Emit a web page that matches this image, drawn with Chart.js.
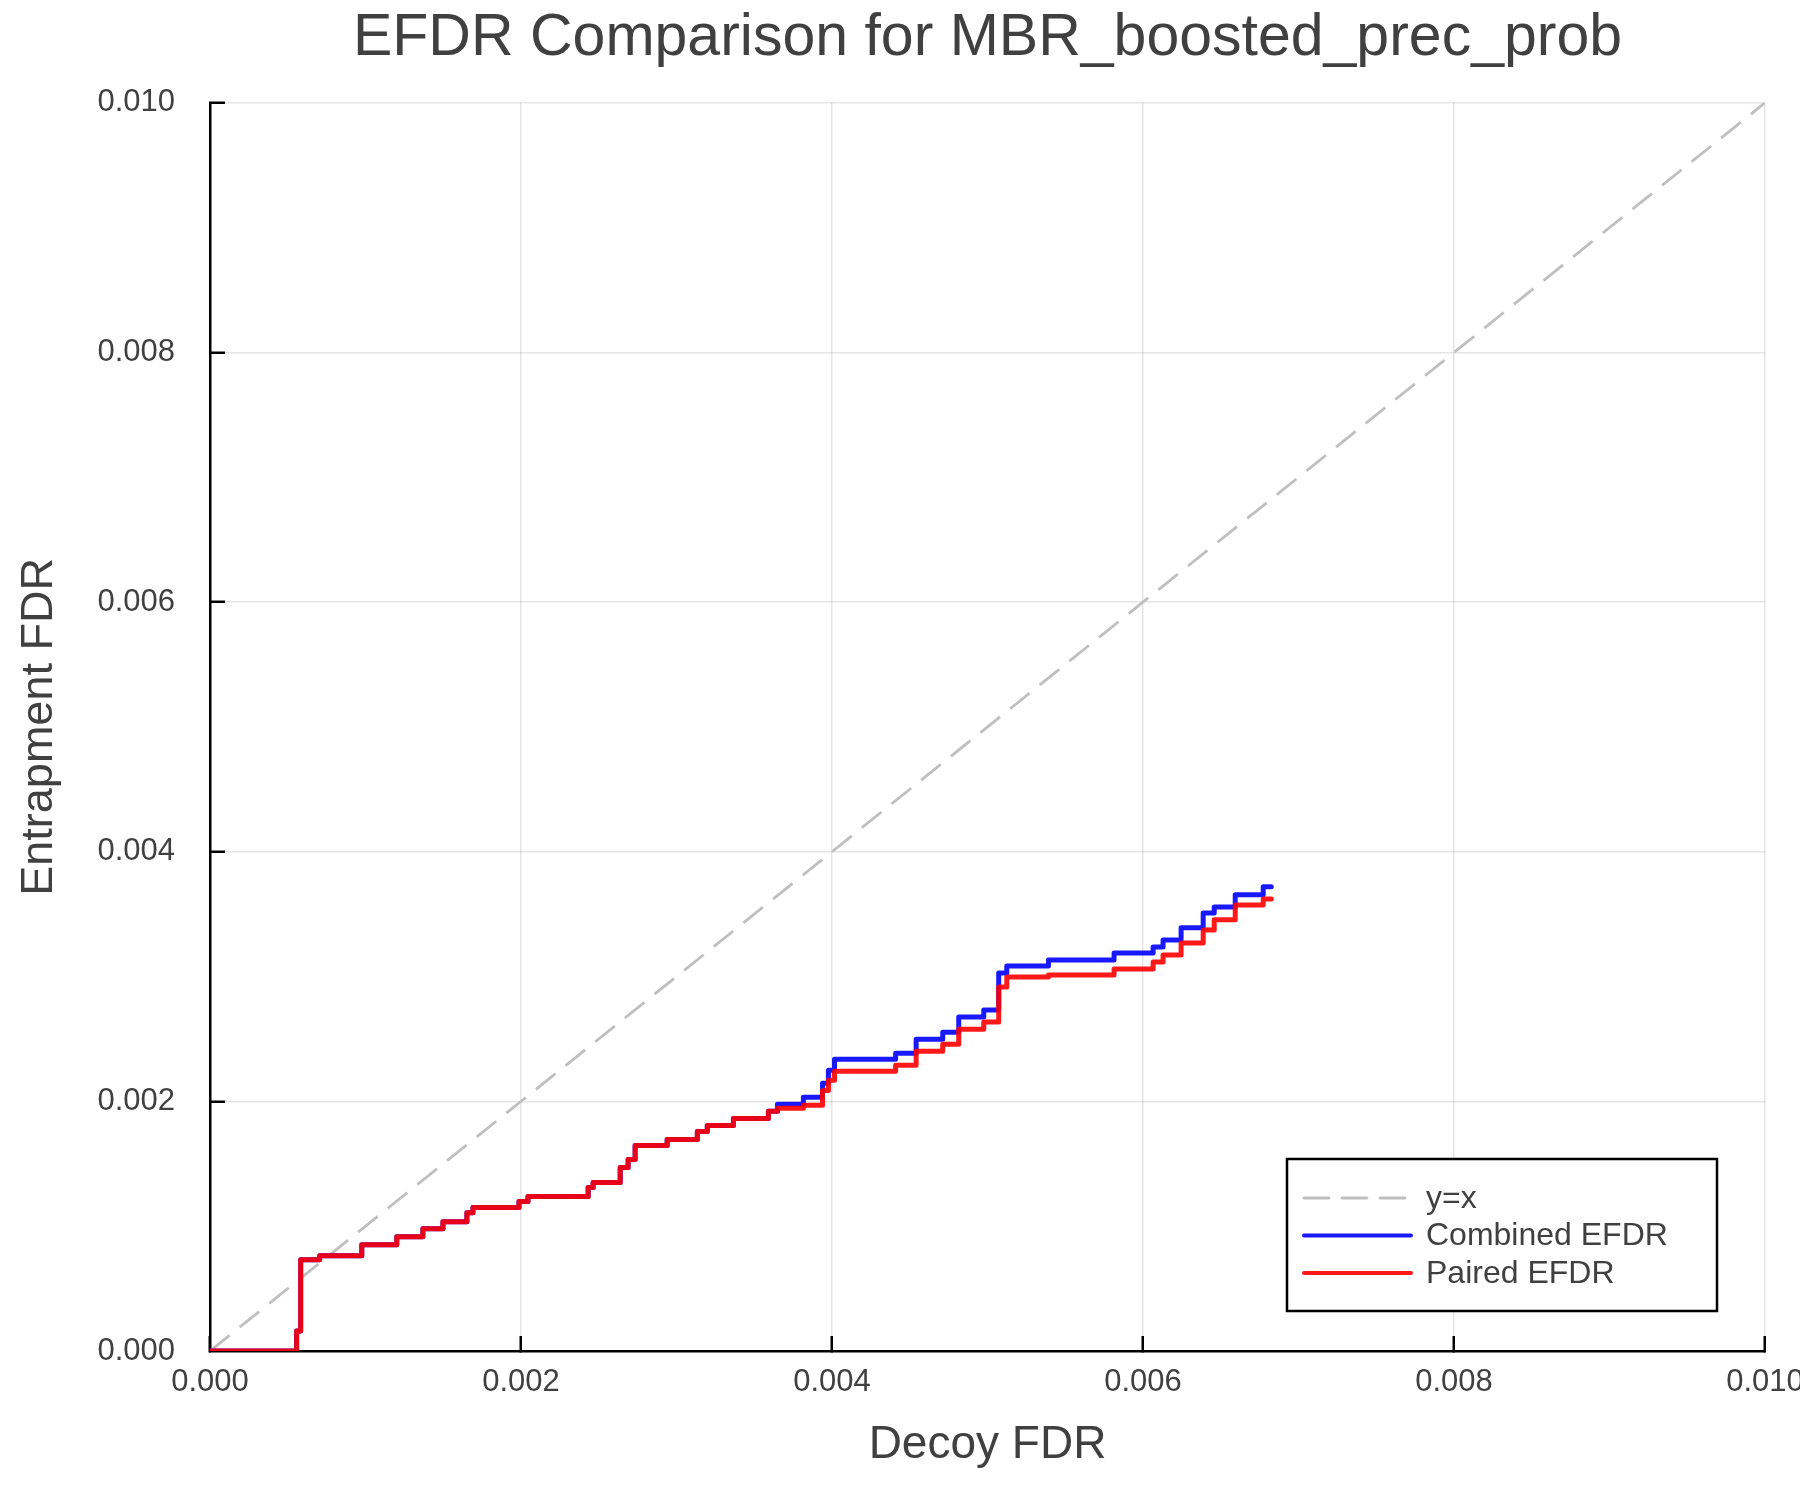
<!DOCTYPE html>
<html>
<head>
<meta charset="utf-8">
<title>EFDR Comparison</title>
<script src="https://cdn.jsdelivr.net/npm/chart.js@4.4.1/dist/chart.umd.min.js"></script>
<style>
  html, body { margin: 0; padding: 0; background: #fff; }
  #wrap { width: 1800px; height: 1500px; position: relative; }
</style>
</head>
<body>
<div id="wrap"><canvas id="efdrChart"></canvas></div>
<script>
// Decoy FDR where each step starts (shared by both curves)
const decoyFdr = [0, 0.000557, 0.000583, 0.000705, 0.000976, 0.001201, 0.001369, 0.001498, 0.001652, 0.001691,
  0.001987, 0.002045, 0.002432, 0.002464, 0.002638, 0.002689, 0.002734, 0.00294, 0.003134, 0.003198,
  0.003366, 0.003591, 0.003649, 0.003816, 0.003939, 0.003977, 0.004016, 0.004409, 0.004541, 0.004712,
  0.004815, 0.004976, 0.005072, 0.005124, 0.005392, 0.005814, 0.006065, 0.006129, 0.006245, 0.006387,
  0.006458, 0.006593, 0.006773, 0.006825];

const combinedEfdr = [0, 0.000161, 0.000731, 0.000763, 0.000851, 0.000916, 0.00098, 0.001036, 0.001108, 0.001149,
  0.001197, 0.001237, 0.001309, 0.001349, 0.00147, 0.001534, 0.001647, 0.001695, 0.001759, 0.001807,
  0.001863, 0.00192, 0.001976, 0.002032, 0.002145, 0.002249, 0.002337, 0.002386, 0.002498, 0.002554,
  0.002675, 0.002731, 0.003028, 0.003084, 0.003133, 0.003189, 0.003237, 0.003293, 0.00339, 0.00351,
  0.003558, 0.003655, 0.003719, 0.003719];

const pairedEfdr = [0, 0.000161, 0.000731, 0.000763, 0.000851, 0.000916, 0.00098, 0.001036, 0.001108, 0.001149,
  0.001197, 0.001237, 0.001309, 0.001349, 0.00147, 0.001534, 0.001647, 0.001695, 0.001759, 0.001807,
  0.001863, 0.00192, 0.001944, 0.001968, 0.002088, 0.002169, 0.002241, 0.002289, 0.002402, 0.002458,
  0.002578, 0.002635, 0.002916, 0.002996, 0.003012, 0.00306, 0.003116, 0.003173, 0.003269, 0.003373,
  0.003454, 0.003574, 0.003622, 0.003622];

// y = x reference line ends
const diagonal = [0, 0.01];

const tickValues = [0, 0.002, 0.004, 0.006, 0.008, 0.010];

const FONT = "'Liberation Sans', Arial, Helvetica, sans-serif";
const TEXT = '#404040';

const toPoints = (xs, ys) => xs.map((x, i) => ({ x: x, y: ys[i] }));

// legend drawn inside the plot, bottom right, with a black box
const boxLegend = {
  id: 'boxLegend',
  afterDraw(chart) {
    const { ctx, chartArea } = chart;
    const left = chartArea.right - 478;
    const top = chartArea.bottom - 192;
    ctx.save();
    ctx.fillStyle = '#fff';
    ctx.fillRect(left, top, 430, 152);
    ctx.strokeStyle = '#000';
    ctx.lineWidth = 2.5;
    ctx.strokeRect(left, top, 430, 152);
    ctx.font = '32px ' + FONT;
    ctx.textBaseline = 'middle';
    ctx.fillStyle = TEXT;
    chart.data.datasets.forEach((ds, i) => {
      const y = top + 39 + i * 37.5;
      ctx.beginPath();
      ctx.strokeStyle = ds.borderColor;
      ctx.lineWidth = ds.borderDash ? ds.borderWidth : 4;
      ctx.lineCap = 'round';
      ctx.setLineDash(ds.borderDash || []);
      ctx.moveTo(left + 17, y);
      ctx.lineTo(left + 124, y);
      ctx.stroke();
      ctx.setLineDash([]);
      ctx.fillText(ds.label, left + 139, y + 1);
    });
    ctx.restore();
  }
};

const ctx = document.getElementById('efdrChart').getContext('2d');
new Chart(ctx, {
  type: 'line',
  data: {
    datasets: [
      {
        label: 'y=x',
        data: toPoints(diagonal, diagonal),
        borderColor: '#bfbfbf',
        borderWidth: 2.8,
        borderDash: [25, 13],
        pointRadius: 0,
        order: 3
      },
      {
        label: 'Combined EFDR',
        data: toPoints(decoyFdr, combinedEfdr),
        borderColor: 'rgba(0, 0, 255, 0.9)',
        borderWidth: 5,
        stepped: 'before',
        borderJoinStyle: 'round',
        borderCapStyle: 'round',
        pointRadius: 0,
        order: 2
      },
      {
        label: 'Paired EFDR',
        data: toPoints(decoyFdr, pairedEfdr),
        borderColor: 'rgba(255, 0, 0, 0.9)',
        borderWidth: 5,
        stepped: 'before',
        borderJoinStyle: 'round',
        borderCapStyle: 'round',
        pointRadius: 0,
        order: 1
      }
    ]
  },
  options: {
    responsive: true,
    maintainAspectRatio: false,
    animation: false,
    layout: { padding: { left: 0, right: 0, top: 0, bottom: 0 } },
    plugins: {
      legend: { display: false },
      tooltip: { enabled: false },
      title: {
        display: true,
        text: 'EFDR Comparison for MBR_boosted_prec_prob',
        fullSize: false,
        color: TEXT,
        font: { family: FONT, size: 59, weight: 'normal' },
        padding: { top: 3, bottom: 29 }
      }
    },
    scales: {
      x: {
        type: 'linear',
        min: 0,
        max: 0.01,
        afterBuildTicks: axis => { axis.ticks = tickValues.map(v => ({ value: v })); },
        afterFit: axis => { axis.height = 149; axis.paddingRight = 35; axis.paddingLeft = 0; },
        ticks: {
          padding: 28,
          color: TEXT,
          font: { family: FONT, size: 31 },
          callback: v => v.toFixed(3)
        },
        grid: { color: 'rgba(0,0,0,0.1)', lineWidth: 1.5, tickColor: '#000', tickWidth: 2.5, tickLength: -15 },
        border: { color: '#000', width: 2.5 },
        title: {
          display: true,
          text: 'Decoy FDR',
          color: TEXT,
          font: { family: FONT, size: 46 },
          padding: { top: 0, bottom: 27 }
        }
      },
      y: {
        type: 'linear',
        min: 0,
        max: 0.01,
        afterBuildTicks: axis => { axis.ticks = tickValues.map(v => ({ value: v })); },
        afterFit: axis => { axis.width = 210; },
        ticks: {
          padding: 50,
          color: TEXT,
          font: { family: FONT, size: 31 },
          callback: v => v.toFixed(3)
        },
        grid: { color: 'rgba(0,0,0,0.1)', lineWidth: 1.5, tickColor: '#000', tickWidth: 2.5, tickLength: -15 },
        border: { color: '#000', width: 2.5 },
        title: {
          display: true,
          text: 'Entrapment FDR',
          color: TEXT,
          font: { family: FONT, size: 45 },
          padding: { top: 13, bottom: 0 }
        }
      }
    }
  },
  plugins: [boxLegend]
});
</script>
</body>
</html>
